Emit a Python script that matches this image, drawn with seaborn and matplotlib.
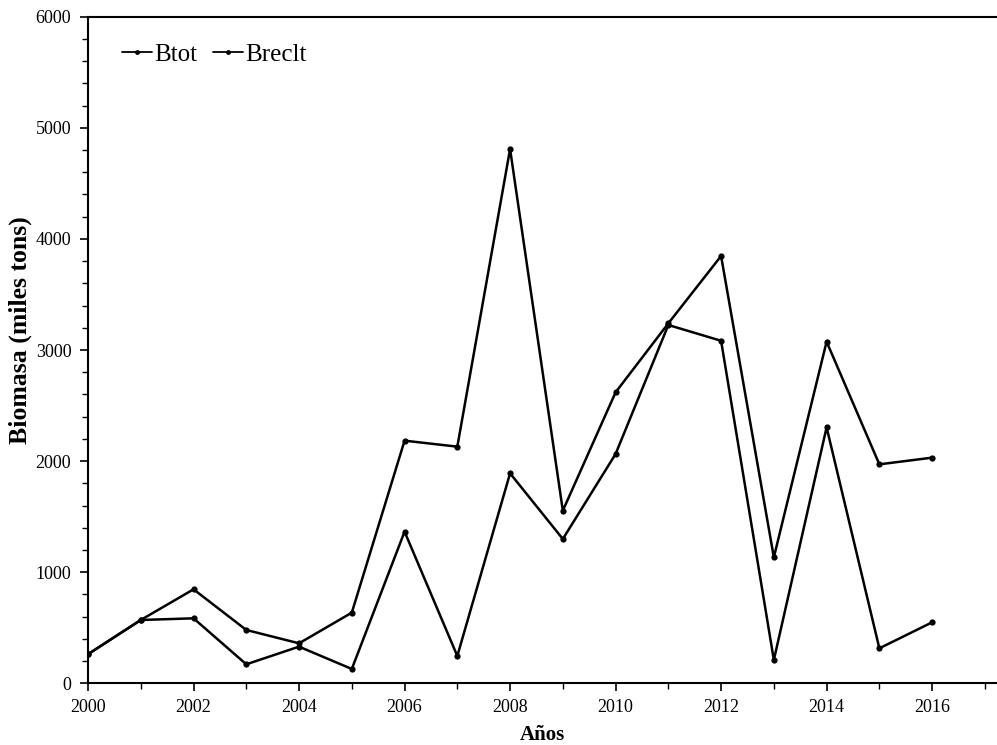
import numpy as np
import pandas as pd
import matplotlib
matplotlib.use("Agg")
import matplotlib.pyplot as plt
from matplotlib.ticker import MultipleLocator
import seaborn as sns

years = [2000, 2001, 2002, 2003, 2004, 2005, 2006, 2007, 2008,
         2009, 2010, 2011, 2012, 2013, 2014, 2015, 2016]
btot = [262, 570, 846, 480, 360, 636, 2184, 2130, 4809,
        1554, 2619, 3240, 3846, 1134, 3075, 1971, 2031]
breclt = [262, 570, 585, 171, 330, 129, 1365, 246, 1890,
          1299, 2064, 3225, 3083, 210, 2304, 315, 549]
series_names = ["Btot", "Breclt"]

df = pd.DataFrame({
    "Año": years * 2,
    "Biomasa": btot + breclt,
    "Serie": [series_names[0]] * len(years) + [series_names[1]] * len(years),
})

sns.set_theme(style="white")
plt.rcParams["font.family"] = ["Liberation Serif", "DejaVu Serif"]
plt.rcParams["text.color"] = "black"

fig = plt.figure(figsize=(9.97, 7.45), dpi=100)
ax = fig.add_axes([0.0883, 0.0828, 0.9117, 0.8948])

sns.lineplot(data=df, x="Año", y="Biomasa", hue="Serie", hue_order=series_names,
             palette=["black", "black"], marker="o", markersize=4.5,
             markeredgewidth=0, linewidth=1.8, ax=ax)

ax.set_xlim(2000, 2017.23)
ax.set_ylim(0, 6000)
ax.xaxis.set_major_locator(MultipleLocator(2))
ax.xaxis.set_minor_locator(MultipleLocator(1))
ax.yaxis.set_major_locator(MultipleLocator(1000))
ax.yaxis.set_minor_locator(MultipleLocator(200))
ax.tick_params(axis="both", which="major", direction="out", length=6, width=1.2,
               color="black", labelsize=13, labelcolor="black", pad=5.5,
               bottom=True, left=True)
ax.tick_params(axis="y", which="major", pad=6)
ax.tick_params(axis="both", which="minor", direction="out", length=4, width=1.0,
               color="black", bottom=True, left=True)

for side in ["left", "bottom", "top"]:
    ax.spines[side].set_visible(True)
    ax.spines[side].set_color("black")
    ax.spines[side].set_linewidth(1.5)
ax.spines["right"].set_visible(False)

ax.set_xlabel("Años", fontsize=15, fontweight="bold", color="black", labelpad=6)
ax.set_ylabel("Biomasa (miles tons)", fontsize=18.5, fontweight="bold", color="black")
ax.yaxis.set_label_coords(-0.062, 0.53)

leg = ax.legend(loc="upper left", bbox_to_anchor=(0.021, 0.982), ncol=2, frameon=False,
                fontsize=18, handlelength=1.2, handletextpad=0.1, columnspacing=0.6,
                borderaxespad=0.2)
for t in leg.get_texts():
    t.set_color("black")
for h in leg.legend_handles:
    h.set_linewidth(1.3)
    h.set_markersize(3.5)

fig.savefig("out.png", dpi=100)
